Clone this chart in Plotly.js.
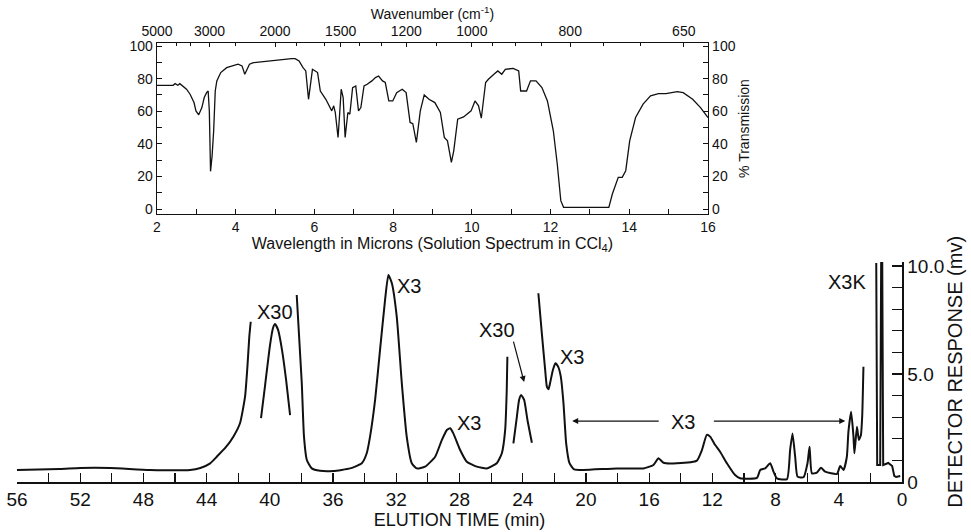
<!DOCTYPE html>
<html><head><meta charset="utf-8">
<script src="https://cdn.plot.ly/plotly-3.0.1.min.js"></script>
<style>html,body{margin:0;padding:0;background:#fff}#chart{width:971px;height:532px}</style>
</head><body><div id="chart"></div>
<script>
// ---- IR spectrum (top panel) ----
const irWavelength = [2.00,2.41,2.46,2.53,2.58,2.65,2.75,2.84,2.94,2.99,3.06,3.14,3.20,3.26,3.30,3.33,3.36,3.40,3.44,3.48,3.52,3.62,3.77,4.06,4.16,4.23,4.35,4.45,4.93,5.42,5.51,5.61,5.71,5.78,5.85,5.90,5.95,6.02,6.08,6.15,6.29,6.44,6.49,6.53,6.60,6.64,6.68,6.73,6.78,6.85,6.90,6.97,7.05,7.12,7.18,7.26,7.34,7.46,7.55,7.63,7.73,7.80,7.89,7.99,8.09,8.23,8.33,8.43,8.50,8.59,8.69,8.79,8.91,9.06,9.20,9.30,9.38,9.48,9.54,9.64,9.79,9.98,10.08,10.17,10.24,10.35,10.42,10.56,10.66,10.76,10.85,11.05,11.19,11.24,11.39,11.49,11.63,11.78,11.92,12.07,12.17,12.26,12.33,13.48,13.57,13.72,13.82,13.91,14.01,14.16,14.35,14.54,14.74,14.93,15.08,15.22,15.37,15.61,15.81,16.00];
const irTransmission = [75.9,75.9,76.9,75.9,76.9,75.5,73.5,70.4,65.3,60.2,57.8,62.2,68.4,71.4,72.4,60,23.1,32.7,48,72.4,78.6,83.7,86.7,88.8,87.8,82.7,88.8,89.8,91.2,92.2,92.2,90.8,86.7,84.7,67.3,78.6,85.7,84.7,83.7,72.4,67.3,60.2,63.3,59.2,43.9,58,73.5,68.4,43.9,59.2,58.2,74.5,75.5,60.2,62.2,75.5,76.5,78.6,80.6,81.6,78.6,77.6,66.3,66.3,71.4,73.5,71.4,53.1,52.4,40.8,60.2,70.0,67.3,65.3,59.2,43.9,41.8,28.6,35.7,55.1,56.5,60.2,66.3,63.3,55.7,77.6,79.6,82.7,84.7,82.7,85.7,86.3,84.7,72.4,72.4,78.6,78.6,74.5,66.3,48.0,27.6,5.1,1.0,1.0,9.2,19.4,19.4,23.5,41.8,56.1,64.3,69.4,70.8,70.8,71.2,72.0,71.4,67.3,62.2,56.1];
const wavenumberTicks = [5000,3000,2000,1500,1200,1000,800,650];
const wavenumberMinor = [4000,3500,2500,1800,1600,1400,1300,1100,950,900,850,750,700];
const wavelengthTicks = [2,4,6,8,10,12,14,16];
const transmissionTicks = [0,20,40,60,80,100];

// ---- Chromatogram (bottom panel), drawn in pen segments ----
const segA_time = [56,53.3,52.0,50.1,47.6,45.05,44.4,43.8,43.36,42.8,42.31,41.89,41.57,41.42,41.30,41.21];
const segA_resp = [0.56,0.60,0.65,0.65,0.56,0.56,0.65,0.85,1.17,1.6,2.10,2.72,3.95,5.34,6.73,7.42];
const segB_time = [40.56,40.30,39.99,39.80,39.67,39.48,39.23,38.97,38.72];
const segB_resp = [2.96,4.49,6.34,7.13,7.31,7.04,6.11,4.72,3.10];
const segC_time = [38.30,37.98,37.84,37.66,37.35,36.82,36.0,34.92,34.18,33.87,33.66,33.34,33.03,32.71,32.50,32.28,31.97,31.65,31.34,31.02,30.70,30.18,29.54,29.12,28.80,28.59,28.39,27.96,27.54,26.91,26.27,25.64,25.32,25.11,25.01,24.97];
const segC_resp = [8.66,4.57,2.10,1.02,0.63,0.52,0.51,0.63,0.87,1.33,2.10,3.80,6.11,8.43,9.58,9.20,7.65,4.57,2.10,0.87,0.63,0.71,1.17,1.94,2.41,2.49,2.25,1.48,0.94,0.71,0.63,0.87,1.33,2.41,4.26,5.80];
const segD_time = [24.59,24.37,24.23,24.10,23.91,23.70,23.42];
const segD_resp = [1.79,3.02,3.80,4.03,3.80,2.87,1.82];
const segE_time = [23.01,22.79,22.58,22.47,22.37,22.27,22.09,21.93,21.76,21.59,21.42,21.25,21.04,20.75,20.16,18.04,16.36,15.73,15.41,15.09,14.25,12.98,12.66,12.35,12.14,11.82,11.51,11.08,10.56,10.24,9.18,8.97,8.66,8.34,8.13,7.92,7.28,7.08,6.93,6.76,6.61,6.23,5.98,5.85,5.70,5.39,5.13,4.86,4.12,3.91,3.70,3.49,3.39,3.22,3.07,3.01,2.85,2.73,2.60,2.52,2.44];
const segE_resp = [8.74,6.88,5.19,4.41,4.29,4.57,5.19,5.50,5.34,4.88,3.64,1.79,0.87,0.59,0.56,0.63,0.63,0.79,1.10,0.89,0.87,0.99,1.48,2.18,2.10,1.71,1.40,0.87,0.32,0.17,0.19,0.56,0.63,0.87,0.48,0.17,0.13,1.48,2.25,1.17,0.25,0.22,0.87,1.63,0.40,0.43,0.66,0.48,0.37,0.74,0.56,1.17,2.33,3.25,2.10,1.33,2.56,1.94,2.18,3.02,5.34];
const segF_time = [1.63,1.57,1.38,1.32,1.25,1.19,0.87,0.62,0.49,0.37,0.11];
const segF_resp = [10.14,0.79,0.79,10.14,10.14,0.79,0.88,0.74,0.28,0.23,0.28];
const elutionTicks = [56,52,48,44,40,36,32,28,24,20,16,12,8,4,0];
const responseTicks = [0,5,10];
const responseTickText = ["0","5.0","10.0"];

const W = 971, H = 532;
const fx = p => p / W, fy = p => 1 - p / H;
const INK = '#111';
const FONT = 'Liberation Sans, Arial, sans-serif';

const traces = [
  {x: irWavelength, y: irTransmission, xaxis: 'x', yaxis: 'y', mode: 'lines',
   line: {color: INK, width: 1.3}, hoverinfo: 'skip'},
  // same data on the overlaid wavenumber / right-hand axes so that Plotly draws them
  {x: irWavelength, y: irTransmission, xaxis: 'x2', yaxis: 'y2', mode: 'lines',
   line: {color: INK, width: 1.3}, opacity: 0, hoverinfo: 'skip'}
];
const segs = [
  [segA_time, segA_resp, 'spline'], [segB_time, segB_resp, 'spline'],
  [segC_time, segC_resp, 'spline'], [segD_time, segD_resp, 'spline'],
  [segE_time, segE_resp, 'spline'], [segF_time, segF_resp, 'linear']
];
segs.forEach(s => traces.push({x: s[0], y: s[1], xaxis: 'x3', yaxis: 'y3', mode: 'lines',
  line: {color: INK, width: 2, shape: s[2], smoothing: 0.5}, hoverinfo: 'skip'}));

const ann = (text, x, y) => ({text, x, y, xref: 'x3', yref: 'y3', showarrow: false,
  font: {size: 20, family: FONT, color: INK}});
const arr = (x, y, ax, ay) => ({text: '', x, y, ax, ay, xref: 'x3', yref: 'y3', axref: 'x3', ayref: 'y3',
  showarrow: true, arrowhead: 2, arrowsize: 1, arrowwidth: 1.2, arrowcolor: INK});

const layout = {
  width: W, height: H, margin: {l: 0, r: 0, t: 0, b: 0},
  paper_bgcolor: '#fff', plot_bgcolor: 'rgba(0,0,0,0)', showlegend: false,
  font: {family: FONT, color: INK, size: 14},
  xaxis: {domain: [fx(157), fx(708)], range: [2, 16], anchor: 'y', showline: true, linecolor: INK, linewidth: 1.3,
    tickmode: 'array', tickvals: wavelengthTicks, ticks: 'inside', ticklen: 5, tickcolor: INK,
    minor: {tickmode: 'linear', tick0: 2, dtick: 1, ticks: 'inside', ticklen: 5, tickcolor: INK},
    showgrid: false, zeroline: false, tickfont: {size: 14},
    title: {text: 'Wavelength in Microns (Solution Spectrum in CCl<sub>4</sub>)', font: {size: 16}, standoff: 0}},
  xaxis2: {overlaying: 'x', side: 'top', anchor: 'y', range: [2, 16], showline: true, linecolor: INK, linewidth: 1.3,
    tickmode: 'array', tickvals: wavenumberTicks.map(w => 10000 / w), ticktext: wavenumberTicks.map(String),
    ticks: 'inside', ticklen: 4, tickcolor: INK,
    minor: {tickmode: 'array', tickvals: wavenumberMinor.map(w => 10000 / w), ticks: 'inside', ticklen: 3, tickcolor: INK},
    showgrid: false, zeroline: false, tickfont: {size: 14},
    title: {text: 'Wavenumber (cm<sup>-1</sup>)', font: {size: 14}, standoff: 0}},
  yaxis: {domain: [fy(214), fy(43)], range: [-3.07, 101.84], anchor: 'x', showline: true, linecolor: INK, linewidth: 1.3,
    tickmode: 'array', tickvals: transmissionTicks, ticks: 'inside', ticklen: 5, tickcolor: INK,
    minor: {tickmode: 'linear', tick0: 0, dtick: 10, ticks: 'inside', ticklen: 5, tickcolor: INK},
    showgrid: false, zeroline: false, tickfont: {size: 14}},
  yaxis2: {overlaying: 'y', side: 'right', anchor: 'x', range: [-3.07, 101.84], showline: true, linecolor: INK, linewidth: 1.3,
    tickmode: 'array', tickvals: transmissionTicks, ticks: 'inside', ticklen: 5, tickcolor: INK,
    minor: {tickmode: 'linear', tick0: 0, dtick: 10, ticks: 'inside', ticklen: 5, tickcolor: INK},
    showgrid: false, zeroline: false, tickfont: {size: 14},
    title: {text: '% Transmission', font: {size: 14}, standoff: 4}},
  xaxis3: {domain: [fx(17), fx(902)], range: [56, 0], anchor: 'y3', showline: true, linecolor: INK, linewidth: 1.5,
    tickmode: 'array', tickvals: elutionTicks, ticks: 'inside', ticklen: 9, tickcolor: INK, tickwidth: 1.2,
    minor: {tickmode: 'linear', tick0: 0, dtick: 2, ticks: 'inside', ticklen: 9, tickcolor: INK, tickwidth: 1.2},
    showgrid: false, zeroline: false, tickfont: {size: 19},
    title: {text: 'ELUTION TIME (min)', font: {size: 18}, standoff: 0}},
  yaxis3: {domain: [fy(482), fy(261.7)], range: [0, 10.2], anchor: 'x3', side: 'right', showline: true, linecolor: INK, linewidth: 1.5,
    tickmode: 'array', tickvals: responseTicks, ticktext: responseTickText, ticks: 'inside', ticklen: 10, tickcolor: INK, tickwidth: 1.2,
    minor: {tickmode: 'linear', tick0: 0, dtick: 1, ticks: 'inside', ticklen: 10, tickcolor: INK, tickwidth: 1.2},
    showgrid: false, zeroline: false, tickfont: {size: 19},
    title: {text: 'DETECTOR RESPONSE (mv)', font: {size: 20}, standoff: 4}},
  annotations: [
    ann('X30', 39.67, 7.87), ann('X3', 31.19, 9.07), ann('X3', 27.39, 2.73), ann('X30', 25.62, 7.04),
    ann('X3', 20.87, 5.79), ann('X3', 13.85, 2.78), ann('X3K', 3.47, 9.26),
    arr(23.91, 4.63, 24.61, 6.57), arr(20.87, 2.82, 15.3, 2.82), arr(3.59, 2.82, 12.0, 2.82)
  ]
};
Plotly.newPlot('chart', traces, layout, {displayModeBar: false, staticPlot: true});
</script></body></html>
